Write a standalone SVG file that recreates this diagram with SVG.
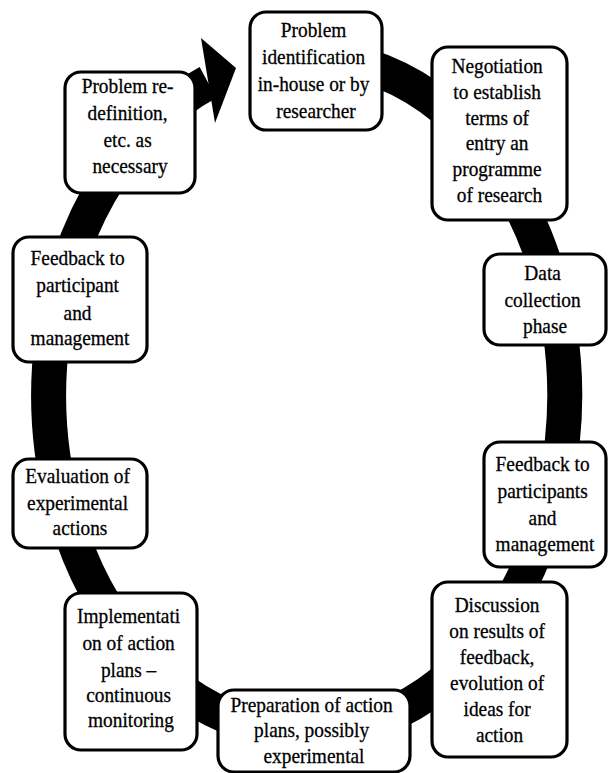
<svg xmlns="http://www.w3.org/2000/svg" width="609" height="773" viewBox="0 0 609 773">
  <style>
    .box { fill: #ffffff; stroke: #000000; stroke-width: 3.2; }
    .lbl { font-family: "Liberation Serif", "Times New Roman", serif; font-size: 21.5px; fill: #000000; stroke: #000000; stroke-width: 0.3; text-anchor: middle; }
    .ring { fill: none; stroke: #000000; stroke-width: 35; }
  </style>

  <!-- cycle ring with arrowhead pointing to the first step -->
  <g id="connectors">
    <path class="ring" d="M262,61.9 A258,338 0 1,1 208,82.5"/>
    <polygon points="201,38 236,68 215,123" fill="#000000"/>
  </g>

  <g id="n1">
    <rect class="box" x="250" y="12" width="132" height="118" rx="16"/>
    <text class="lbl" transform="translate(316,0) scale(0.9,1)">
      <tspan x="0" y="37">Problem</tspan>
      <tspan x="0" y="64">identification</tspan>
      <tspan x="0" y="91">in-house or by</tspan>
      <tspan x="0" y="118">researcher</tspan>
    </text>
  </g>

  <g id="n2">
    <rect class="box" x="432" y="47" width="135" height="173" rx="16"/>
    <text class="lbl" transform="translate(499.5,0) scale(0.9,1)">
      <tspan x="0" y="73">Negotiation</tspan>
      <tspan x="0" y="99">to establish</tspan>
      <tspan x="0" y="125">terms of</tspan>
      <tspan x="0" y="150">entry an</tspan>
      <tspan x="0" y="176">programme</tspan>
      <tspan x="0" y="202">of research</tspan>
    </text>
  </g>

  <g id="n3">
    <rect class="box" x="484" y="254" width="122" height="91" rx="16"/>
    <text class="lbl" transform="translate(545,0) scale(0.9,1)">
      <tspan x="0" y="280">Data</tspan>
      <tspan x="0" y="307">collection</tspan>
      <tspan x="0" y="333">phase</tspan>
    </text>
  </g>

  <g id="n4">
    <rect class="box" x="484" y="442" width="122" height="125" rx="16"/>
    <text class="lbl" transform="translate(545,0) scale(0.9,1)">
      <tspan x="0" y="471">Feedback to</tspan>
      <tspan x="0" y="498">participants</tspan>
      <tspan x="0" y="525">and</tspan>
      <tspan x="0" y="551">management</tspan>
    </text>
  </g>

  <g id="n5">
    <rect class="box" x="432" y="582" width="135" height="175" rx="16"/>
    <text class="lbl" transform="translate(499.5,0) scale(0.9,1)">
      <tspan x="0" y="612">Discussion</tspan>
      <tspan x="0" y="638">on results of</tspan>
      <tspan x="0" y="664">feedback,</tspan>
      <tspan x="0" y="690">evolution of</tspan>
      <tspan x="0" y="716">ideas for</tspan>
      <tspan x="0" y="742">action</tspan>
    </text>
  </g>

  <g id="n6">
    <rect class="box" x="218" y="690" width="192" height="82" rx="16"/>
    <text class="lbl" transform="translate(314,0) scale(0.9,1)">
      <tspan x="0" y="712">Preparation of action</tspan>
      <tspan x="0" y="737">plans, possibly</tspan>
      <tspan x="0" y="763">experimental</tspan>
    </text>
  </g>

  <g id="n7">
    <rect class="box" x="65" y="593" width="132" height="157" rx="16"/>
    <text class="lbl" transform="translate(131,0) scale(0.9,1)">
      <tspan x="0" y="623">Implementati</tspan>
      <tspan x="0" y="650">on of action</tspan>
      <tspan x="0" y="677">plans –</tspan>
      <tspan x="0" y="702">continuous</tspan>
      <tspan x="0" y="727">monitoring</tspan>
    </text>
  </g>

  <g id="n8">
    <rect class="box" x="13" y="459" width="134" height="89" rx="16"/>
    <text class="lbl" transform="translate(80,0) scale(0.9,1)">
      <tspan x="0" y="483">Evaluation of</tspan>
      <tspan x="0" y="510">experimental</tspan>
      <tspan x="0" y="535">actions</tspan>
    </text>
  </g>

  <g id="n9">
    <rect class="box" x="13" y="237" width="134" height="125" rx="16"/>
    <text class="lbl" transform="translate(80,0) scale(0.9,1)">
      <tspan x="0" y="265">Feedback to</tspan>
      <tspan x="0" y="292">participant</tspan>
      <tspan x="0" y="320">and</tspan>
      <tspan x="0" y="345">management</tspan>
    </text>
  </g>

  <g id="n10">
    <rect class="box" x="65" y="72" width="130" height="121" rx="16"/>
    <text class="lbl" transform="translate(130,0) scale(0.9,1)">
      <tspan x="0" y="93">Problem re-</tspan>
      <tspan x="0" y="120">definition,</tspan>
      <tspan x="0" y="147">etc. as</tspan>
      <tspan x="0" y="173">necessary</tspan>
    </text>
  </g>
</svg>
